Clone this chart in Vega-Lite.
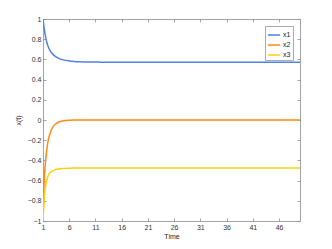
{
  "$schema": "https://vega.github.io/schema/vega-lite/v6.json",
  "width": 257,
  "height": 202,
  "autosize": {"type": "none"},
  "padding": {"left": 43, "top": 19, "right": 32, "bottom": 28},
  "background": "white",
  "config": {
    "font": "Liberation Sans",
    "view": {"stroke": null},
    "axis": {"domainColor": "#8c8c8c", "tickColor": "#8c8c8c", "labelColor": "#333333", "titleColor": "#222222", "labelFontSize": 7, "titleFontSize": 7, "titleFontWeight": "normal", "grid": false, "tickSize": -3, "domainWidth": 0.8, "tickWidth": 0.8}
  },
  "data": {"values": [
    {"t":1,"s":"x1","v":1},{"t":1.25,"s":"x1","v":0.9},{"t":1.5,"s":"x1","v":0.82},{"t":1.75,"s":"x1","v":0.765},{"t":2,"s":"x1","v":0.725},{"t":2.5,"s":"x1","v":0.675},{"t":3,"s":"x1","v":0.645},{"t":3.5,"s":"x1","v":0.625},{"t":4,"s":"x1","v":0.61},{"t":4.5,"s":"x1","v":0.6},{"t":5,"s":"x1","v":0.593},{"t":6,"s":"x1","v":0.585},{"t":7,"s":"x1","v":0.58},{"t":8,"s":"x1","v":0.577},{"t":10,"s":"x1","v":0.574},{"t":12,"s":"x1","v":0.573},{"t":15,"s":"x1","v":0.572},{"t":20,"s":"x1","v":0.571},{"t":25,"s":"x1","v":0.571},{"t":30,"s":"x1","v":0.571},{"t":35,"s":"x1","v":0.571},{"t":40,"s":"x1","v":0.571},{"t":45,"s":"x1","v":0.571},{"t":50,"s":"x1","v":0.571},
    {"t":1,"s":"x2","v":-1},{"t":1.25,"s":"x2","v":-0.58},{"t":1.5,"s":"x2","v":-0.4},{"t":1.75,"s":"x2","v":-0.28},{"t":2,"s":"x2","v":-0.2},{"t":2.5,"s":"x2","v":-0.11},{"t":3,"s":"x2","v":-0.06},{"t":3.5,"s":"x2","v":-0.035},{"t":4,"s":"x2","v":-0.02},{"t":4.5,"s":"x2","v":-0.012},{"t":5,"s":"x2","v":-0.007},{"t":6,"s":"x2","v":-0.003},{"t":7,"s":"x2","v":-0.001},{"t":8,"s":"x2","v":0},{"t":10,"s":"x2","v":0},{"t":12,"s":"x2","v":0},{"t":15,"s":"x2","v":0},{"t":20,"s":"x2","v":0},{"t":25,"s":"x2","v":0},{"t":30,"s":"x2","v":0},{"t":35,"s":"x2","v":0},{"t":40,"s":"x2","v":0},{"t":45,"s":"x2","v":0},{"t":50,"s":"x2","v":0},
    {"t":1,"s":"x3","v":-1},{"t":1.25,"s":"x3","v":-0.76},{"t":1.5,"s":"x3","v":-0.65},{"t":1.75,"s":"x3","v":-0.59},{"t":2,"s":"x3","v":-0.55},{"t":2.5,"s":"x3","v":-0.515},{"t":3,"s":"x3","v":-0.498},{"t":3.5,"s":"x3","v":-0.489},{"t":4,"s":"x3","v":-0.484},{"t":4.5,"s":"x3","v":-0.481},{"t":5,"s":"x3","v":-0.479},{"t":6,"s":"x3","v":-0.477},{"t":7,"s":"x3","v":-0.476},{"t":8,"s":"x3","v":-0.475},{"t":10,"s":"x3","v":-0.475},{"t":12,"s":"x3","v":-0.475},{"t":15,"s":"x3","v":-0.475},{"t":20,"s":"x3","v":-0.475},{"t":25,"s":"x3","v":-0.475},{"t":30,"s":"x3","v":-0.475},{"t":35,"s":"x3","v":-0.475},{"t":40,"s":"x3","v":-0.475},{"t":45,"s":"x3","v":-0.475},{"t":50,"s":"x3","v":-0.475}
  ]},
  "layer": [
    {
      "mark": {"type": "line", "strokeWidth": 1.5, "interpolate": "monotone", "clip": true},
      "encoding": {
        "x": {"field": "t", "type": "quantitative", "scale": {"domain": [1, 50], "nice": false, "zero": false},
          "axis": {"title": "Time", "values": [1,6,11,16,21,26,31,36,41,46], "labelPadding": 5, "titlePadding": 2, "labelFlush": false}},
        "y": {"field": "v", "type": "quantitative", "scale": {"domain": [-1, 1], "nice": false},
          "axis": {"title": "x(t)", "format": "~g", "values": [-1,-0.8,-0.6,-0.4,-0.2,0,0.2,0.4,0.6,0.8,1], "labelPadding": 5, "titlePadding": 6, "labelFlush": false}},
        "color": {"field": "s", "type": "nominal",
          "scale": {"domain": ["x1","x2","x3"], "range": ["#5181e6","#ff8a14","#ffcf0a"]},
          "legend": {"title": null, "orient": "top-right", "offset": 7, "symbolType": "stroke", "symbolStrokeWidth": 1.5, "symbolSize": 150, "labelFontSize": 7, "labelColor": "#222222", "rowPadding": 0, "strokeColor": "#aaaaaa", "fillColor": "white", "padding": 2, "labelOffset": 2}}
      }
    },
    {
      "mark": {"type": "point", "opacity": 0},
      "encoding": {
        "x": {"field": "t", "type": "quantitative", "axis": {"orient": "top", "title": null, "labels": false, "values": [1,6,11,16,21,26,31,36,41,46]}},
        "y": {"field": "v", "type": "quantitative", "axis": {"orient": "right", "title": null, "labels": false, "values": [-1,-0.8,-0.6,-0.4,-0.2,0,0.2,0.4,0.6,0.8,1]}}
      }
    }
  ],
  "resolve": {"axis": {"x": "independent", "y": "independent"}}
}
